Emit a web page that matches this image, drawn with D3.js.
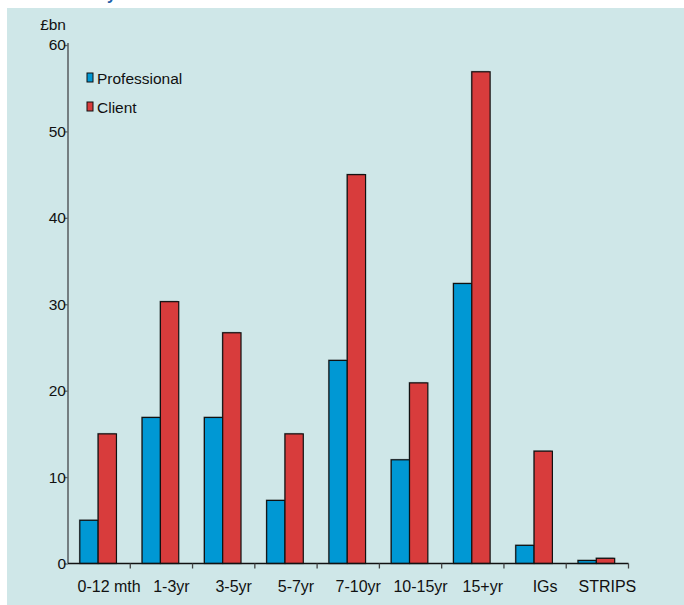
<!DOCTYPE html>
<html>
<head>
<meta charset="utf-8">
<script src="https://cdn.jsdelivr.net/npm/d3@7/dist/d3.min.js"></script>
<style>
  html, body { margin: 0; padding: 0; background: #ffffff; }
  svg { display: block; font-family: "Liberation Sans", Arial, sans-serif; }
</style>
</head>
<body>
<svg id="chart" width="684" height="605"></svg>
<script>
// Turnover by maturity band, £bn
const categories = ["0-12 mth", "1-3yr", "3-5yr", "5-7yr", "7-10yr", "10-15yr", "15+yr", "IGs", "STRIPS"];
const seriesNames = ["Professional", "Client"];
const professional = [5.0, 16.9, 16.9, 7.3, 23.5, 12.0, 32.4, 2.1, 0.35];
const client = [15.0, 30.3, 26.7, 15.0, 45.0, 20.9, 56.9, 13.0, 0.6];
const yTicks = [0, 10, 20, 30, 40, 50, 60];
const unitLabel = "£bn";

const colors = { Professional: "#0098d4", Client: "#d83c3c" };

const svg = d3.select("#chart");
const W = 684, H = 605;

// Panel background
svg.append("rect").attr("x", 7).attr("y", 8).attr("width", W - 7).attr("height", H - 8)
  .attr("fill", "#cfe7e8");

// Descender of the heading line above the panel
svg.append("text").attr("x", 107).attr("y", 0)
  .attr("font-size", 16).attr("font-weight", "bold").attr("fill", "#1f5fa8").text("y");

const plot = { left: 68, right: 628.5, top: 45, bottom: 563.5 };

const x = d3.scaleBand().domain(categories).range([plot.left, plot.right]).paddingInner(0).paddingOuter(0);
const xInner = d3.scaleBand().domain(seriesNames).range([0, x.bandwidth()]).paddingInner(0).paddingOuter(0.7);
const y = d3.scaleLinear().domain([0, 60]).range([plot.bottom, plot.top]);

const rows = categories.map((c, i) => ({ cat: c, values: [
  { key: "Professional", v: professional[i] },
  { key: "Client", v: client[i] }
]}));

const g = svg.append("g");

const groups = g.selectAll("g.cat").data(rows).join("g")
  .attr("class", "cat")
  .attr("transform", d => `translate(${x(d.cat) - 1},0)`);

// soft shadow along the left/top edges
groups.selectAll("rect.shadow").data(d => d.values).join("rect")
  .attr("class", "shadow")
  .attr("x", d => xInner(d.key) - 1)
  .attr("y", d => y(d.v) - 1)
  .attr("width", xInner.bandwidth())
  .attr("height", d => y(0) - y(d.v))
  .attr("fill", "#6d7b7d").attr("opacity", 0.55);

groups.selectAll("rect.bar").data(d => d.values).join("rect")
  .attr("class", "bar")
  .attr("x", d => xInner(d.key))
  .attr("y", d => y(d.v))
  .attr("width", xInner.bandwidth())
  .attr("height", d => y(0) - y(d.v))
  .attr("fill", d => colors[d.key])
  .attr("stroke", "#111").attr("stroke-width", 1.2);

// Y axis
const yAxis = d3.axisLeft(y).tickValues(yTicks).tickSize(4).tickPadding(1).tickFormat(d3.format("d"));
const yg = svg.append("g").attr("transform", `translate(${plot.left},0)`).call(yAxis);
yg.select(".domain").attr("stroke", "#5e6466").attr("stroke-width", 1.6)
  .attr("d", `M0,${plot.top - 2}V${plot.bottom}`);
yg.selectAll(".tick line").attr("stroke", "#5e6466").attr("stroke-width", 1.3);
yg.selectAll(".tick text").attr("font-size", 15.5).attr("fill", "#111")
  .attr("font-family", "Liberation Sans, Arial, sans-serif").attr("x", -2);

// X axis: ticks at band boundaries
const xg = svg.append("g").attr("transform", `translate(0,${plot.bottom})`);
xg.append("line").attr("x1", plot.left).attr("x2", plot.right).attr("y1", 0).attr("y2", 0)
  .attr("stroke", "#111").attr("stroke-width", 1.5);
const bounds = categories.map(c => x(c)).concat([plot.right]);
xg.selectAll("line.tk").data(bounds.slice(1)).join("line").attr("class", "tk")
  .attr("x1", d => d).attr("x2", d => d).attr("y1", 0).attr("y2", 5)
  .attr("stroke", "#444").attr("stroke-width", 1.3);
xg.selectAll("text").data(categories).join("text")
  .attr("x", d => x(d) + x.bandwidth() / 2 + 10)
  .attr("y", 28)
  .attr("text-anchor", "middle")
  .attr("font-size", 16).attr("fill", "#111")
  .text(d => d);

// Unit label
svg.append("text").attr("x", 66).attr("y", 30).attr("text-anchor", "end")
  .attr("font-size", 15.5).attr("fill", "#111").text(unitLabel);

// Legend
const legend = svg.append("g").attr("transform", "translate(87,73)");
const li = legend.selectAll("g").data(seriesNames).join("g")
  .attr("transform", (d, i) => `translate(0,${i * 29})`);
li.append("rect").attr("width", 6).attr("height", 9)
  .attr("fill", d => colors[d]).attr("stroke", "#111").attr("stroke-width", 1);
li.append("text").attr("x", 10).attr("y", 10.5).attr("font-size", 15.5).attr("fill", "#111").text(d => d);
</script>
</body>
</html>
